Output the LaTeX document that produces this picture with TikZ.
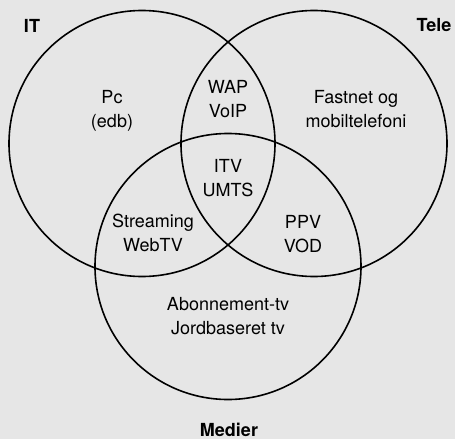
\documentclass[tikz,border=0pt]{standalone}
\usepackage{fontspec}
\setmainfont{TeX Gyre Heros}
\definecolor{bgray}{RGB}{230,230,230}
\newcommand{\twolines}[2]{\begin{tabular}[t]{@{}c@{}}#1\\#2\end{tabular}}
\begin{document}
\begin{tikzpicture}[x=1pt,y=-1pt,
  setcircle/.style={draw=black,line width=1.6pt},
  lbl/.style={anchor=base,inner sep=0pt,font=\fontsize{18}{24}\selectfont},
  setname/.style={anchor=base,inner sep=0pt,font=\fontsize{18}{24}\selectfont\bfseries}]
  % canvas
  \fill[bgray] (0,0) rectangle (455,439);
  \useasboundingbox (0,0) rectangle (455,439);
  % the three sets
  \draw[setcircle] (142,143.5) circle[radius=133];
  \draw[setcircle] (314,143.5) circle[radius=133];
  \draw[setcircle] (228,266.5) circle[radius=133];
  % set names
  \node[setname] (it) at (32,32) {IT};
  \node[setname] (tele) at (434,31) {Tele};
  \node[setname] (medier) at (229,436) {Medier};
  % regions
  \node[lbl] (pc) at (112,103) {\twolines{Pc}{(edb)}};
  \node[lbl] (fastnet) at (356,103) {\twolines{Fastnet og}{mobiltelefoni}};
  \node[lbl] (wap) at (228,93) {\twolines{WAP}{VoIP}};
  \node[lbl] (itv) at (228,172) {\twolines{ITV}{UMTS}};
  \node[lbl] (streaming) at (153,227) {\twolines{Streaming}{WebTV}};
  \node[lbl] (ppv) at (303,228) {\twolines{PPV}{VOD}};
  \node[lbl] (abon) at (228,310) {\twolines{Abonnement-tv}{Jordbaseret tv}};
\end{tikzpicture}
\end{document}
